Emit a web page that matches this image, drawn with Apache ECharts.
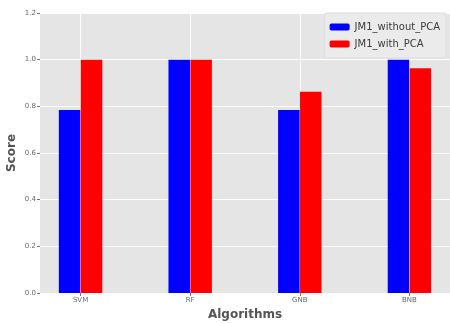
<!DOCTYPE html>
<html>
<head>
<meta charset="utf-8">
<script src="https://cdn.jsdelivr.net/npm/echarts@6/dist/echarts.min.js"></script>
<style>html,body{margin:0;padding:0;background:#fff}#c{width:450px;height:323px}</style>
</head>
<body>
<div id="c"></div>
<script>
var categories = ['SVM', 'RF', 'GNB', 'BNB'];
var withoutPCA = [0.784, 1.0, 0.784, 1.0];
var withPCA = [1.0, 1.0, 0.863, 0.963];
var yTicks = [0, 0.2, 0.4, 0.6, 0.8, 1.0, 1.2];

var chart = echarts.init(document.getElementById('c'), null, {renderer: 'canvas'});
var catPos = categories.map(function (c, i) { return i; });
var option = {
  animation: false,
  backgroundColor: '#ffffff',
  grid: {left: 40, right: 0, top: 13, bottom: 30, show: true, backgroundColor: '#e5e5e5', borderWidth: 0,
    containLabel: false, outerBoundsMode: 'none'},
  legend: {
    right: 4, top: 13, orient: 'vertical', itemWidth: 20, itemHeight: 7, itemGap: 7,
    padding: [9, 6, 9, 5],
    backgroundColor: '#ebebeb', borderColor: '#dcdcdc', borderWidth: 1, borderRadius: 2,
    textStyle: {fontFamily: 'DejaVu Sans', fontSize: 10, color: '#3a3a3a'},
    data: ['JM1_without_PCA', 'JM1_with_PCA']
  },
  xAxis: {
    type: 'value', min: -0.37, max: 3.37,
    name: 'Algorithms', nameLocation: 'middle', nameGap: 16,
    nameTextStyle: {fontFamily: 'DejaVu Sans', fontWeight: 'bold', fontSize: 12, color: '#555'},
    axisLine: {show: false, onZero: false},
    axisTick: {show: true, customValues: catPos, length: 3, lineStyle: {color: '#777'}},
    axisLabel: {customValues: catPos, fontFamily: 'DejaVu Sans', fontSize: 7, color: '#666', margin: 4,
      formatter: function (v) { return categories[Math.round(v)]; }},
    splitLine: {show: true, customValues: catPos, lineStyle: {color: '#ffffff', width: 1}}
  },
  yAxis: {
    type: 'value', min: 0, max: 1.2, interval: 0.2,
    name: 'Score', nameLocation: 'middle', nameGap: 22, nameMoveOverlap: false,
    nameTextStyle: {fontFamily: 'DejaVu Sans', fontWeight: 'bold', fontSize: 12, color: '#555'},
    axisLine: {show: false, onZero: false},
    axisTick: {show: true, length: 3, lineStyle: {color: '#777'}},
    axisLabel: {fontFamily: 'DejaVu Sans', fontSize: 7, color: '#666', margin: 4,
      formatter: function (v) { return v.toFixed(1); }},
    splitLine: {show: true, lineStyle: {color: '#ffffff', width: 1}}
  },
  series: [
    {
      name: 'JM1_without_PCA', type: 'bar', barWidth: 21.5, barGap: '-100%',
      itemStyle: {color: '#0000ff'},
      data: withoutPCA.map(function (v, i) { return [i - 0.1, v]; }),
      z: 3
    },
    {
      name: 'JM1_with_PCA', type: 'bar', barWidth: 21.5, barGap: '-100%',
      itemStyle: {color: '#ff0000'},
      data: withPCA.map(function (v, i) { return [i + 0.1, v]; }),
      z: 3
    }
  ]
};
chart.setOption(option);
</script>
</body>
</html>
